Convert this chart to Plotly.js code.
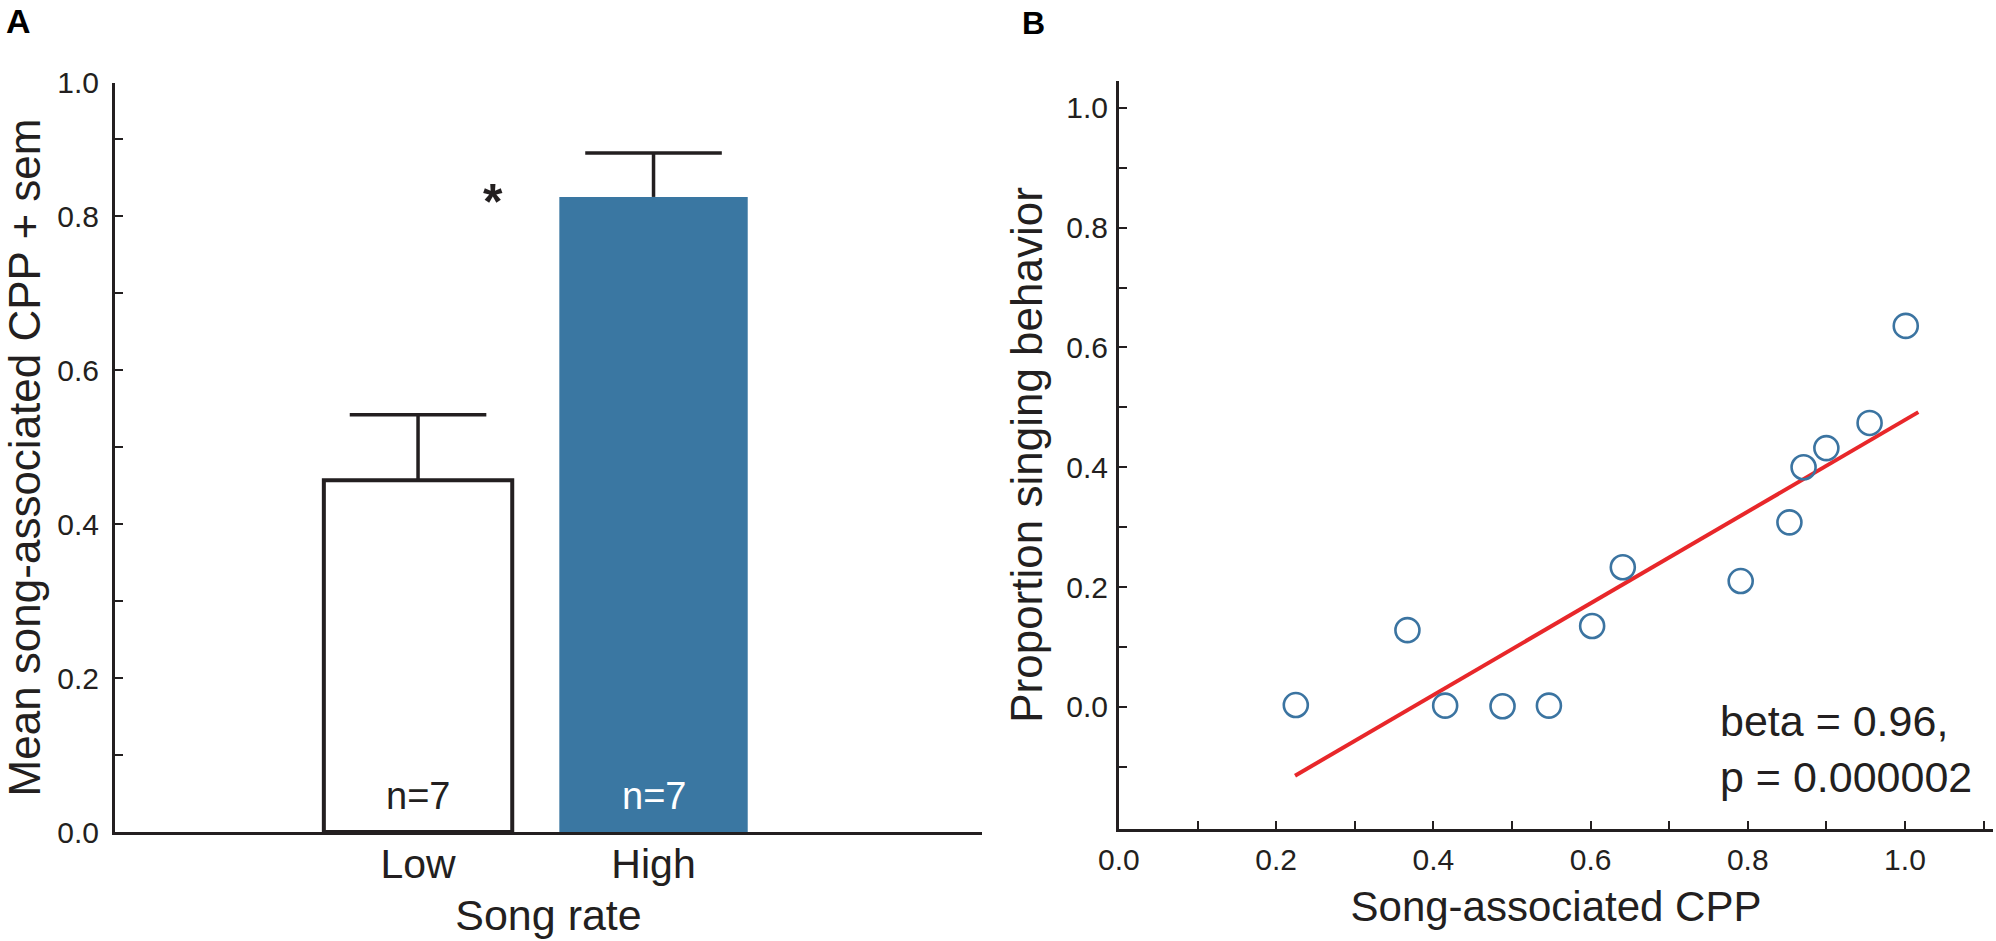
<!DOCTYPE html>
<html lang="en">
    <head>
        <meta charset="UTF-8" />
        <script src="https://cdn.plot.ly/plotly-3.0.1.min.js"></script>
        <title>Song rate and CPP</title>
        <style>
            body { margin: 0; background: #ffffff; }
            #graph { width: 1996px; height: 941px; }
        </style>
    </head>
    <body>
        <div id="graph"></div>
    </body>
    <script>
        // Panel A: mean song-associated CPP by song rate
        const songRates = ["Low", "High"];
        const meanCPP = [0.457, 0.825];
        const semCPP = [0.085, 0.057];
        const groupN = ["n=7", "n=7"];

        // Panel B: individual birds
        const cppX = [0.225, 0.367, 0.415, 0.488, 0.547, 0.602, 0.641, 0.791, 0.853, 0.871, 0.9, 0.955, 1.001];
        const singingY = [0.003, 0.128, 0.002, 0.001, 0.002, 0.135, 0.233, 0.21, 0.308, 0.4, 0.432, 0.474, 0.636];
        const fitX = [0.224, 1.017];
        const fitY = [-0.115, 0.492];
        const statsText = "beta = 0.96,<br>p = 0.000002";

        // tick labels
        const aTickVals = [0, 0.1, 0.2, 0.3, 0.4, 0.5, 0.6, 0.7, 0.8, 0.9, 0.973];
        const aTickText = ["0.0", "", "0.2", "", "0.4", "", "0.6", "", "0.8", "", "1.0"];
        const bXTickVals = [0, 0.1, 0.2, 0.3, 0.4, 0.5, 0.6, 0.7, 0.8, 0.9, 1.0, 1.1];
        const bXTickText = ["0.0", "", "0.2", "", "0.4", "", "0.6", "", "0.8", "", "1.0", ""];
        const bYTickVals = [-0.1, 0, 0.1, 0.2, 0.3, 0.4, 0.5, 0.6, 0.7, 0.8, 0.9, 1.0];
        const bYTickText = ["", "0.0", "", "0.2", "", "0.4", "", "0.6", "", "0.8", "", "1.0"];

        const ink = "#231f20";
        const blue = "#3a77a2";
        const font = "Liberation Sans, Arial, sans-serif";

        const barX = [1, 2];
        const capHalf = 0.29;

        const bars = {
            type: "bar",
            x: barX,
            y: meanCPP,
            width: 0.8,
            marker: {
                color: ["#ffffff", blue],
                line: { color: [ink, blue], width: [4, 0] },
            },
            xaxis: "x",
            yaxis: "y",
            hoverinfo: "none",
        };

        // upper-only error bars (stem + top cap), no cap at the bar top
        const errX = [];
        const errY = [];
        barX.forEach((x, i) => {
            const top = meanCPP[i] + semCPP[i];
            errX.push(x, x, null, x - capHalf, x + capHalf, null);
            errY.push(meanCPP[i], top, null, top, top, null);
        });
        const errors = {
            type: "scatter",
            mode: "lines",
            x: errX,
            y: errY,
            line: { color: ink, width: 3.5 },
            connectgaps: false,
            xaxis: "x",
            yaxis: "y",
        };

        const points = {
            type: "scatter",
            mode: "markers",
            x: cppX,
            y: singingY,
            marker: {
                symbol: "circle-open",
                size: 24,
                color: "#3b74a1",
                line: { width: 2.6, color: "#3b74a1" },
            },
            xaxis: "x2",
            yaxis: "y2",
        };

        const fit = {
            type: "scatter",
            mode: "lines",
            x: fitX,
            y: fitY,
            line: { color: "#e8272a", width: 4 },
            xaxis: "x2",
            yaxis: "y2",
        };

        const axisBase = {
            showline: true,
            linecolor: ink,
            linewidth: 3,
            showgrid: false,
            zeroline: false,
            tickcolor: ink,
            tickwidth: 2,
            ticklen: 8,
        };

        const layout = {
            width: 1996,
            height: 941,
            margin: { l: 0, r: 0, t: 0, b: 0 },
            paper_bgcolor: "#ffffff",
            plot_bgcolor: "rgba(0,0,0,0)",
            showlegend: false,
            font: { family: font, color: ink },
            xaxis: Object.assign({}, axisBase, {
                domain: [0.0576, 0.492],
                range: [-0.287, 3.395],
                anchor: "y",
                tickmode: "array",
                tickvals: barX,
                ticktext: songRates,
                ticks: "",
                tickfont: { size: 41 },
                ticklabelstandoff: -6,
                title: { text: "Song rate", font: { size: 43 }, standoff: 14 },
            }),
            yaxis: Object.assign({}, axisBase, {
                domain: [0.1158, 0.9118],
                range: [0, 0.973],
                anchor: "x",
                tickmode: "array",
                tickvals: aTickVals,
                ticktext: aTickText,
                ticks: "inside",
                tickfont: { size: 30 },
                ticklabelstandoff: 7,
                title: { text: "Mean song-associated CPP + sem", font: { size: 44 }, standoff: 14 },
            }),
            xaxis2: Object.assign({}, axisBase, {
                domain: [0.5606, 0.9985],
                range: [0, 1.112],
                anchor: "y2",
                tickmode: "array",
                tickvals: bXTickVals,
                ticktext: bXTickText,
                ticks: "inside",
                tickfont: { size: 30 },
                ticklabelstandoff: 2,
                title: { text: "Song-associated CPP", font: { size: 42 }, standoff: 17 },
            }),
            yaxis2: Object.assign({}, axisBase, {
                domain: [0.119, 0.914],
                range: [-0.204, 1.045],
                anchor: "x2",
                tickmode: "array",
                tickvals: bYTickVals,
                ticktext: bYTickText,
                ticks: "inside",
                tickfont: { size: 30 },
                ticklabelstandoff: 2,
                title: { text: "Proportion singing behavior", font: { size: 44 }, standoff: 10 },
            }),
            annotations: [
                { text: "<b>A</b>", xref: "paper", yref: "paper", x: 0.002, y: 0.978,
                  xanchor: "left", yanchor: "middle", showarrow: false, font: { size: 34, color: "#000000" } },
                { text: "<b>B</b>", xref: "paper", yref: "paper", x: 0.511, y: 0.976,
                  xanchor: "left", yanchor: "middle", showarrow: false, font: { size: 32, color: "#000000" } },
                { text: groupN[0], xref: "x", yref: "y", x: barX[0], y: 0.047, yanchor: "middle",
                  showarrow: false, font: { size: 38, color: ink } },
                { text: groupN[1], xref: "x", yref: "y", x: barX[1], y: 0.047, yanchor: "middle",
                  showarrow: false, font: { size: 38, color: "#ffffff" } },
                { text: "<b>*</b>", xref: "x", yref: "y", x: 1.318, y: 0.836, yanchor: "middle",
                  yshift: -14, showarrow: false, font: { size: 50, color: ink } },
                { text: statsText, xref: "x2", yref: "y2", x: 0.762, y: 0.02, xanchor: "left",
                  yanchor: "top", align: "left", showarrow: false, font: { size: 43, color: ink } },
            ],
        };

        Plotly.newPlot("graph", [bars, errors, fit, points], layout, { staticPlot: true });
    </script>
</html>
